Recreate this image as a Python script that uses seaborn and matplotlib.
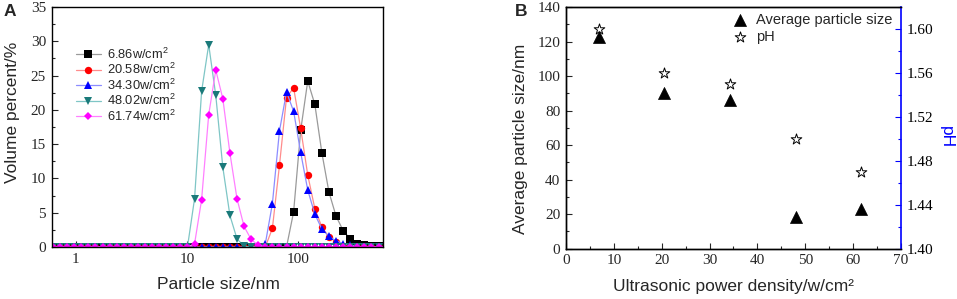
import matplotlib
matplotlib.use('Agg')
import matplotlib.pyplot as plt
import seaborn as sns
from matplotlib.ticker import MultipleLocator, NullLocator, FixedLocator, FixedFormatter, FormatStrFormatter

# ---------------- data ----------------
sizes_nm = [0.5365, 0.6213, 0.7195, 0.8332, 0.9649, 1.117, 1.294, 1.499, 1.736, 2.010,
            2.328, 2.696, 3.122, 3.615, 4.187, 4.849, 5.615, 6.503, 7.531, 8.721,
            10.10, 11.70, 13.54, 15.69, 18.17, 21.04, 24.36, 28.21, 32.67, 37.84,
            43.82, 50.75, 58.77, 68.06, 78.82, 91.28, 105.7, 122.4, 141.8, 164.2,
            190.1, 220.2, 255.0, 295.3, 342.0, 396.1, 458.7, 531.2, 615.1]

vol_686 = [0, 0, 0, 0, 0, 0, 0, 0, 0, 0,
           0, 0, 0, 0, 0, 0, 0, 0, 0, 0,
           0, 0, 0, 0, 0, 0, 0, 0, 0, 0,
           0, 0, 0, 0, 0, 5.1, 17.0, 24.2, 20.8, 13.7,
           8.0, 4.5, 2.4, 1.2, 0.5, 0.25, 0.2, 0.2, 0.2]
vol_2058 = [0, 0, 0, 0, 0, 0, 0, 0, 0, 0,
            0, 0, 0, 0, 0, 0, 0, 0, 0, 0,
            0, 0, 0, 0, 0, 0, 0, 0, 0, 0,
            0, 0, 2.7, 11.9, 21.8, 23.2, 17.3, 10.5, 5.6, 2.9,
            1.5, 0.7, 0.2, 0, 0, 0, 0, 0, 0]
vol_3430 = [0, 0, 0, 0, 0, 0, 0, 0, 0, 0,
            0, 0, 0, 0, 0, 0, 0, 0, 0, 0,
            0, 0, 0, 0, 0, 0, 0, 0, 0, 0,
            0, 0.45, 6.3, 16.9, 22.6, 19.8, 13.8, 8.3, 4.8, 2.6,
            1.55, 0.9, 0.5, 0.35, 0, 0, 0, 0, 0]
vol_4802 = [0, 0, 0, 0, 0, 0, 0, 0, 0, 0,
            0, 0, 0, 0, 0, 0, 0, 0, 0, 0,
            0, 7.05, 22.7, 29.5, 22.1, 11.6, 4.6, 1.2, 0.1, 0,
            0, 0, 0, 0, 0, 0, 0, 0, 0, 0,
            0, 0, 0, 0, 0, 0, 0, 0, 0]
vol_6174 = [0, 0, 0, 0, 0, 0, 0, 0, 0, 0,
            0, 0, 0, 0, 0, 0, 0, 0, 0, 0,
            0, 0.45, 6.9, 19.3, 25.8, 21.6, 13.7, 7.05, 3.0, 1.1,
            0.25, 0, 0, 0, 0, 0, 0, 0, 0, 0,
            0, 0, 0, 0, 0, 0, 0, 0, 0]

series_labels = ['6.86w/cm$^2$', '20.58w/cm$^2$', '34.30w/cm$^2$', '48.02w/cm$^2$', '61.74w/cm$^2$']

power_density = [6.86, 20.58, 34.30, 48.02, 61.74]
avg_size = [122.4, 90.1, 86.0, 18.2, 23.0]
ph_values = [1.600, 1.560, 1.550, 1.500, 1.470]

# ---------------- style ----------------
sns.set_style('ticks')
SANS = ['Liberation Sans', 'DejaVu Sans']
plt.rcParams['font.family'] = ['Liberation Serif', 'DejaVu Serif']
plt.rcParams['mathtext.fontset'] = 'custom'
plt.rcParams['mathtext.rm'] = 'Liberation Sans'
plt.rcParams['mathtext.it'] = 'Liberation Sans'
plt.rcParams['mathtext.default'] = 'regular'

fig = plt.figure(figsize=(9.57, 2.99), dpi=100)
axA = fig.add_axes([0.054, 0.1739, 0.3462, 0.8027])
axB = fig.add_axes([0.5914, 0.1682, 0.3501, 0.8084])

TICK_FS = 11

# ---------------- panel A ----------------
axA.set_xscale('log')
styles = [
    ('s', '#000000', '#9a9a9a'),
    ('o', '#ff0000', '#ff8c8c'),
    ('^', '#0000ff', '#8c8cff'),
    ('v', '#1a7a7a', '#7fc6c6'),
    ('D', '#ff00ff', '#ff80ff'),
]
all_vals = [vol_686, vol_2058, vol_3430, vol_4802, vol_6174]
for lab, vals, (mk, mc, lc) in zip(series_labels, all_vals, styles):
    sns.lineplot(x=sizes_nm, y=vals, ax=axA, color=lc, lw=0.9, marker=mk,
                 markersize=5.3 if mk != 'D' else 4.5, markerfacecolor=mc,
                 markeredgecolor=mc, markeredgewidth=0, label=lab,
                 sort=False, errorbar=None)

axA.set_xlim(0.604, 583)
axA.set_ylim(0, 35)
axA.xaxis.set_major_locator(FixedLocator([1, 10, 100]))
axA.xaxis.set_major_formatter(FixedFormatter(['1', '10', '100']))
axA.xaxis.set_minor_locator(NullLocator())
axA.yaxis.set_major_locator(MultipleLocator(5))
axA.yaxis.set_minor_locator(MultipleLocator(2.5))
axA.tick_params(which='both', direction='in', width=0.8, labelsize=TICK_FS,
                top=False, right=False, pad=4)
axA.tick_params(which='major', length=4)
axA.tick_params(which='minor', length=2.5)
for sp in axA.spines.values():
    sp.set_linewidth(1.0)
    sp.set_color('black')
    sp.set_visible(True)

axA.set_xlabel('Particle size/nm', fontsize=12.5, family=SANS)
axA.set_ylabel('Volume percent/%', fontsize=12.5, family=SANS)
axA.xaxis.set_label_coords(0.502, -0.125)
axA.yaxis.set_label_coords(-0.097, 0.56)

axA.legend(loc='upper left', bbox_to_anchor=(0.072, 0.835), frameon=False,
           prop={'family': SANS, 'size': 9.3}, handlelength=2.0, handletextpad=0.45,
           labelspacing=0.02, borderpad=0, borderaxespad=0)

# ---------------- panel B ----------------
sns.scatterplot(x=power_density, y=avg_size, ax=axB, marker='^', s=75,
                color='black', edgecolor='black', linewidth=0.5,
                label='Average particle size')
ax2 = axB.twinx()
sns.scatterplot(x=power_density, y=ph_values, ax=ax2, marker='*', s=65,
                facecolor='white', edgecolor='black', linewidth=0.7, label='pH')
for a in (axB, ax2):
    if a.get_legend() is not None:
        a.get_legend().remove()

axB.set_xlim(0, 70)
axB.set_ylim(0, 140)
axB.xaxis.set_major_locator(MultipleLocator(10))
axB.xaxis.set_minor_locator(MultipleLocator(5))
axB.yaxis.set_major_locator(MultipleLocator(20))
axB.yaxis.set_minor_locator(MultipleLocator(10))
axB.tick_params(which='both', direction='in', width=0.8, labelsize=TICK_FS,
                top=False, right=False, pad=4)
axB.tick_params(which='major', length=4)
axB.tick_params(which='minor', length=2.5)

ax2.set_ylim(1.40, 1.62)
ax2.yaxis.set_major_locator(MultipleLocator(0.04))
ax2.yaxis.set_minor_locator(MultipleLocator(0.02))
ax2.yaxis.set_major_formatter(FormatStrFormatter('%.2f'))
ax2.tick_params(which='both', direction='in', width=0.8, labelsize=TICK_FS,
                color='blue', labelcolor='black', pad=4)
ax2.tick_params(which='major', length=4)
ax2.tick_params(which='minor', length=2.5)

for a in (axB, ax2):
    for sp in a.spines.values():
        sp.set_linewidth(1.0)
        sp.set_color('black')
axB.spines['right'].set_visible(False)
ax2.spines['right'].set_color('blue')
ax2.spines['right'].set_linewidth(1.2)

axB.set_xlabel('Ultrasonic power density/w/cm²', fontsize=12.5, family=SANS)
axB.set_ylabel('Average particle size/nm', fontsize=12.5, family=SANS)
axB.xaxis.set_label_coords(0.50, -0.125)
axB.yaxis.set_label_coords(-0.113, 0.455)

ax2.set_ylabel('pH', fontsize=12.5, color='blue', rotation=270, va='bottom', family=SANS)
ax2.yaxis.set_label_coords(1.113, 0.462)

h1, l1 = axB.get_legend_handles_labels()
h2, l2 = ax2.get_legend_handles_labels()
ax2.legend(h1 + h2, l1 + l2, loc='upper right', bbox_to_anchor=(0.973, 0.975),
           frameon=False, prop={'family': SANS, 'size': 10.5}, handlelength=1.0,
           handletextpad=0.6, labelspacing=0.22, borderpad=0, borderaxespad=0)

# panel letters
fig.text(0.004, 0.988, 'A', fontsize=12.5, fontweight='bold', va='top', ha='left', family=SANS)
fig.text(0.538, 0.988, 'B', fontsize=12.5, fontweight='bold', va='top', ha='left', family=SANS)

fig.savefig('out.png', dpi=100)
